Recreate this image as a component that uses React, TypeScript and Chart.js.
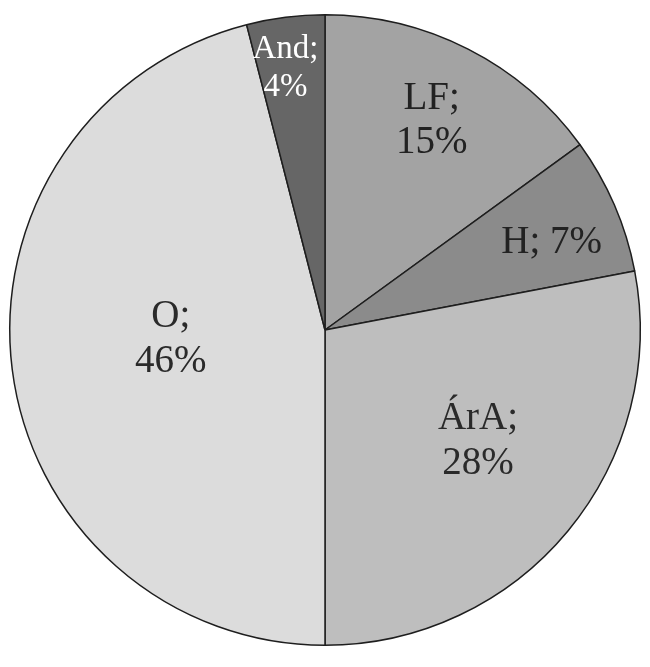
import React, { useEffect, useRef } from "react";
import { Chart, registerables } from "chart.js";

Chart.register(...registerables);

const categories = ["LF", "H", "ÁrA", "O", "And"];
const values = [15, 7, 28, 46, 4];
const sliceColors = ["#a3a3a3", "#8b8b8b", "#bebebe", "#dcdcdc", "#666666"];
const labelColors = ["#222222", "#222222", "#2a2a2a", "#2a2a2a", "#ffffff"];
const labelTwoLine = [true, false, true, true, true];
const labelRadiusFrac = [0.745, 0.77, 0.6, 0.49, 0.84];
const labelAngleOffsetDeg = [0, 2.4, -3.6, 3.9, -1.4];
const labelFontSize = [39, 39, 39, 39, 33];

const labelPlugin = {
  id: "sliceLabels",
  afterDatasetsDraw(chart: any) {
    const ctx = chart.ctx;
    const meta = chart.getDatasetMeta(0);
    meta.data.forEach((arc: any, i: number) => {
      const p = arc.getProps(["x", "y", "startAngle", "endAngle", "outerRadius"], true);
      const mid = (p.startAngle + p.endAngle) / 2 + (labelAngleOffsetDeg[i] * Math.PI) / 180;
      const r = p.outerRadius * labelRadiusFrac[i];
      const cx = p.x + r * Math.cos(mid);
      const cy = p.y + r * Math.sin(mid);
      ctx.save();
      ctx.fillStyle = labelColors[i];
      ctx.font = `${labelFontSize[i]}px "Liberation Serif", "DejaVu Serif", serif`;
      ctx.textAlign = "center";
      ctx.textBaseline = "middle";
      const pct = `${values[i]}%`;
      if (labelTwoLine[i]) {
        const gap = labelFontSize[i] * 1.15;
        ctx.fillText(`${categories[i]};`, cx, cy - gap / 2);
        ctx.fillText(pct, cx, cy + gap / 2);
      } else {
        ctx.fillText(`${categories[i]}; ${pct}`, cx, cy);
      }
      ctx.restore();
    });
  },
};

export default function App() {
  const ref = useRef<HTMLCanvasElement | null>(null);
  useEffect(() => {
    document.body.style.margin = "0";
    const chart = new Chart(ref.current!, {
      type: "pie",
      data: {
        labels: categories,
        datasets: [
          {
            data: values,
            backgroundColor: sliceColors,
            borderColor: "#1e1e1e",
            borderWidth: 1.5,
          },
        ],
      },
      options: {
        animation: false,
        responsive: false,
        layout: { padding: { left: 9, right: 9, top: 14, bottom: 21 } },
        plugins: { legend: { display: false }, tooltip: { enabled: false } },
      },
      plugins: [labelPlugin],
    });
    return () => chart.destroy();
  }, []);
  return (
    <div style={{ width: 650, height: 667, background: "#ffffff" }}>
      <canvas ref={ref} width={650} height={667} />
    </div>
  );
}
